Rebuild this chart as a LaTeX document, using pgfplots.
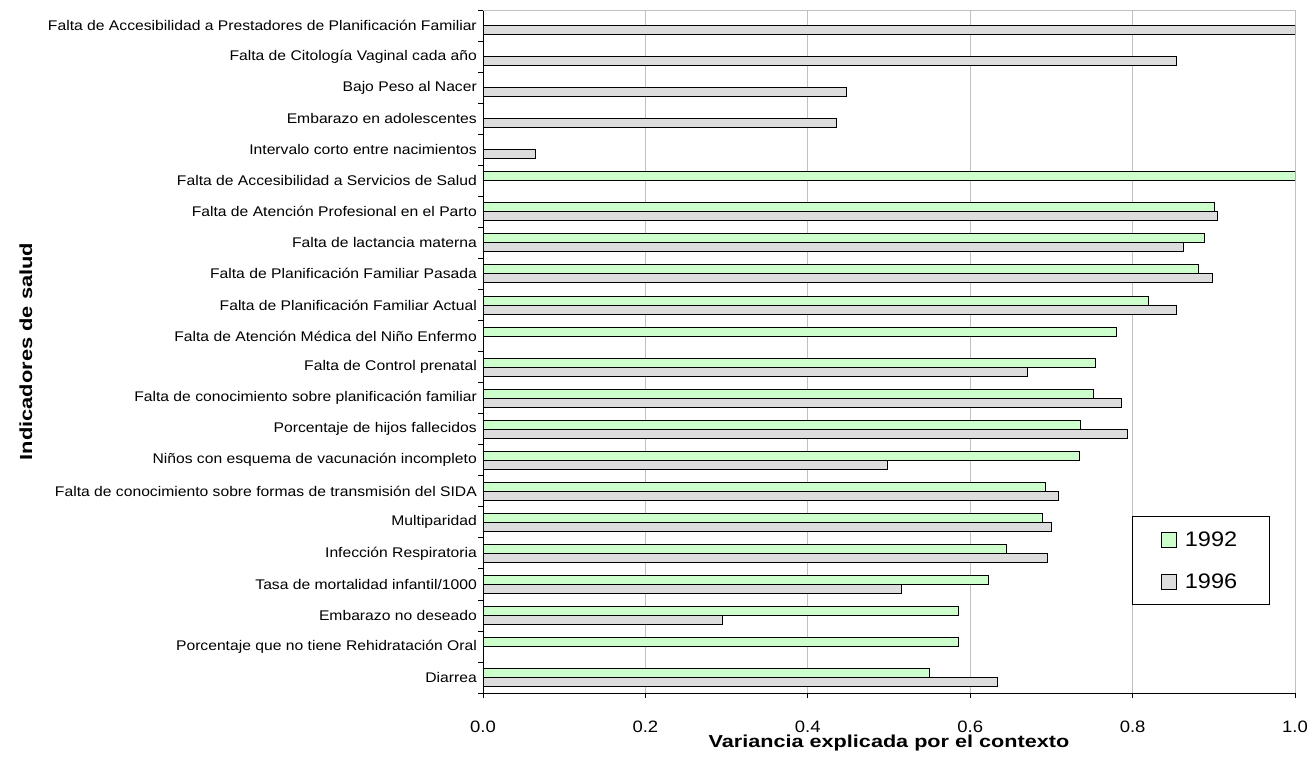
\documentclass[border=0pt]{standalone}
\usepackage{fontspec}
\setmainfont{Liberation Sans}[FakeStretch=1.12]
\newfontfamily\lblfont{Liberation Sans}[FakeStretch=1.25]
\usepackage{pgfplots}
\pgfplotsset{compat=1.18}
\definecolor{grn}{RGB}{204,255,204}
\definecolor{gry}{RGB}{221,221,221}
\definecolor{grd}{RGB}{192,192,192}
\begin{document}
\begin{tikzpicture}
\path[use as bounding box] (0,0) rectangle (1313pt,-758pt);
\begin{axis}[
  at={(483pt,-693pt)}, anchor=south west,
  width=812pt, height=683pt, scale only axis,
  xbar, bar width=9pt,
  xmin=0, xmax=1, ymin=-0.5, ymax=21.5,
  axis x line*=bottom, axis y line*=left,
  axis line style={black, line width=0.8pt, -},
  xtick={0,0.2,0.4,0.6,0.8,1},
  /pgf/number format/fixed, /pgf/number format/fixed zerofill, /pgf/number format/precision=1, /pgf/number format/assume math mode=true,
  xticklabel style={font=\fontsize{16.5}{18}\selectfont, inner sep=0pt, anchor=base, yshift=-34pt},
  xmajorgrids, grid style={grd, line width=0.7pt},
  tick align=outside, major tick length=5pt,
  tick style={black, line width=0.7pt},
  ytick={-0.5,0.5,...,21.5}, yticklabels={},
  extra y ticks={0,1,...,21},
  extra y tick style={major tick length=0pt, grid=none},
  extra y tick labels={Diarrea, Porcentaje que no tiene Rehidratación Oral, Embarazo no deseado, Tasa de mortalidad infantil/1000, Infección Respiratoria, Multiparidad, Falta de conocimiento sobre formas de transmisión del SIDA, Niños con esquema de vacunación incompleto, Porcentaje de hijos fallecidos, Falta de conocimiento sobre planificación familiar, Falta de Control prenatal , Falta de Atención Médica del Niño Enfermo, Falta de Planificación Familiar Actual, Falta de Planificación Familiar Pasada, Falta de lactancia materna , Falta de Atención Profesional en el Parto, Falta de Accesibilidad a Servicios de Salud, Intervalo corto entre nacimientos, Embarazo en adolescentes, Bajo Peso al Nacer, Falta de Citología Vaginal cada año, Falta de Accesibilidad a Prestadores de Planificación Familiar},
  yticklabel style={font=\fontsize{14}{16}\selectfont, inner sep=0pt, anchor=east, xshift=-6pt},
  xlabel={\lblfont\bfseries Variancia explicada por el contexto},
  every axis x label/.style={at={(rel axis cs:0.5,0)}, anchor=base, inner sep=0pt, yshift=-54pt, font=\fontsize{17.3}{19}\selectfont},
  ylabel={\lblfont\bfseries Indicadores de salud},
  every axis y label/.style={at={(rel axis cs:-0.5554,0.5)}, rotate=90, anchor=base, inner sep=0pt, font=\fontsize{17.5}{19}\selectfont},
  legend style={at={(rel axis cs:0.799,0.259)}, anchor=north west, draw=black, line width=0.7pt, fill=white,
    font=\fontsize{21}{23}\selectfont, inner xsep=29pt, inner ysep=12pt, row sep=20pt,
    nodes={inner sep=3pt}, /tikz/every odd column/.append style={column sep=5pt}},
  legend cell align=left,
  legend image code/.code={\draw[#1, line width=0.7pt] (0pt,-7.5pt) rectangle (15pt,7.5pt);},
]
\addplot[fill=grn, draw=black, line width=0.8pt, bar shift=4.5pt] coordinates {
(1.0,16) (0.901,15) (0.889,14) (0.881,13) (0.819,12) (0.780,11) (0.754,10) (0.752,9) (0.736,8) (0.734,7) (0.693,6) (0.689,5) (0.645,4) (0.622,3) (0.586,2) (0.586,1) (0.550,0)};
\addlegendentry{1992}
\addplot[fill=gry, draw=black, line width=0.8pt, bar shift=-4.5pt] coordinates {
(1.0,21) (0.854,20) (0.448,19) (0.435,18) (0.065,17) (0.904,15) (0.863,14) (0.898,13) (0.854,12) (0.670,10) (0.786,9) (0.794,8) (0.498,7) (0.708,6) (0.700,5) (0.695,4) (0.515,3) (0.295,2) (0.634,0)};
\addlegendentry{1996}
\draw[grd, line width=0.8pt] (rel axis cs:0,1) -- (rel axis cs:1,1);
\end{axis}
\end{tikzpicture}
\end{document}
